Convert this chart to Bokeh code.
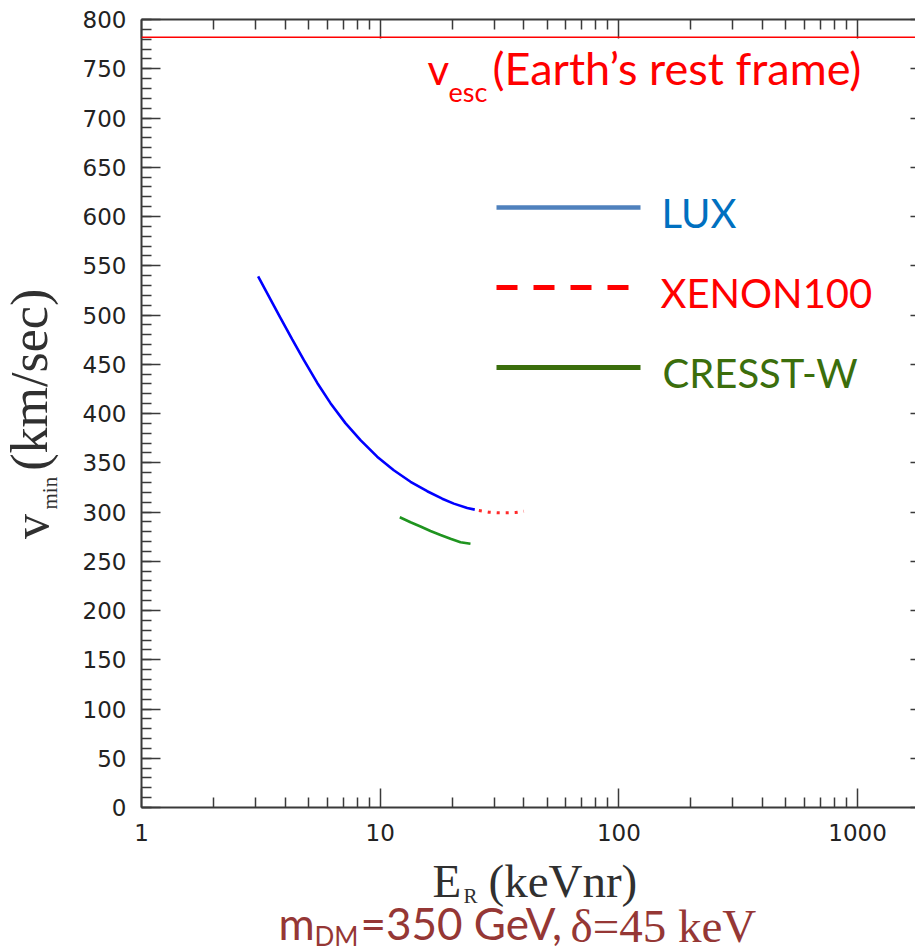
import math
from bokeh.plotting import figure
from bokeh.layouts import column, row
from bokeh.models import (Range1d, FixedTicker, LogAxis, LinearAxis, Span, Label,
                          Arrow, PrintfTickFormatter)
from bokeh.core.properties import value
from bokeh.embed import file_html
from bokeh.resources import INLINE

# ---------------- data ----------------
lux_E = [3.08, 3.47, 3.82, 4.28, 4.79, 5.45, 6.19, 7.15, 8.27, 9.71, 11.40,
         13.40, 15.74, 18.19, 20.34, 23.15, 24.9]
lux_v = [539.1, 515.9, 497.2, 475.3, 454.1, 431.0, 410.5, 390.2, 372.9, 356.2,
         342.4, 330.7, 321.1, 313.5, 308.5, 304.1, 302.4]

xenon_E = [25.9, 28.5, 30.9, 33.8, 36.9, 40.0]
xenon_v = [301.5, 299.8, 299.2, 299.2, 299.5, 300.8]

cresst_E = [12.08, 13.40, 14.75, 16.24, 17.89, 19.70, 21.70, 23.89]
cresst_v = [294.7, 289.6, 285.3, 280.7, 276.7, 272.8, 269.3, 267.7]

v_esc = 782

x_major = [1, 10, 100, 1000]
x_minor = [m * 10 ** k for k in range(4) for m in range(2, 10)]
y_major = list(range(0, 801, 50))
y_minor = list(range(0, 801, 10))

legend_names = ["LUX", "XENON100", "CRESST-W"]
title_text = "(Earth\u2019s rest frame)"

# ---------------- layout (page pixels) ----------------
W, H = 915, 952
LEFT_W = 70                 # strip holding the rotated y-axis title
FL, FT, FB = 141, 19, 807   # frame left / top / bottom on the page
MAIN_H = 854                # main figure height; the rest holds x title + caption
BOT_H = H - MAIN_H
x_end = 10 ** ((W - FL) / 238.7)

p = figure(width=W - LEFT_W, height=MAIN_H, x_axis_type="log",
           x_range=Range1d(1, x_end), y_range=Range1d(0, 800),
           output_backend="svg", toolbar_location=None,
           min_border_left=FL - LEFT_W, min_border_right=0, min_border_top=FT,
           min_border_bottom=MAIN_H - FB)
p.outline_line_color = None
p.grid.visible = False
p.background_fill_color = "white"
p.border_fill_color = "white"

xticker = FixedTicker(ticks=x_major, minor_ticks=x_minor)
yticker = FixedTicker(ticks=y_major, minor_ticks=y_minor)

AX = "#3a3a3a"


def style(ax, labels=True, tin=19, min_in=10):
    ax.axis_line_color = AX
    ax.axis_line_width = 2
    ax.major_tick_line_color = AX
    ax.minor_tick_line_color = AX
    ax.major_tick_line_width = 1.5
    ax.minor_tick_line_width = 1.5
    ax.major_tick_in = tin
    ax.major_tick_out = 0
    ax.minor_tick_in = min_in
    ax.minor_tick_out = 0
    if labels:
        ax.major_label_text_font = "DejaVu Sans"
        ax.major_label_text_font_size = "23px"
        ax.major_label_text_color = "#222222"
    else:
        ax.major_label_text_font_size = "1px"
        ax.major_label_text_alpha = 0
        ax.major_label_standoff = 0


xa = p.xaxis[0]
xa.ticker = xticker
xa.formatter = PrintfTickFormatter(format="%d")
style(xa)
xa.major_label_standoff = 16

ya = p.yaxis[0]
ya.ticker = yticker
style(ya)
ya.major_label_standoff = 15

top = LogAxis(ticker=xticker)
style(top, labels=False)
p.add_layout(top, "above")

right = LinearAxis(ticker=yticker)
style(right, labels=False, tin=5, min_in=0)
right.axis_line_alpha = 0
p.add_layout(right, "right")

# ---------------- data marks ----------------
p.add_layout(Span(location=v_esc, dimension="width", line_color="#ff0000",
                  line_width=1.5))
p.line(lux_E, lux_v, line_color="#0000ff", line_width=2.6)
p.line(xenon_E, xenon_v, line_color="#ff2a2a", line_width=3, line_dash="3 6")
p.line(cresst_E, cresst_v, line_color="#1f941f", line_width=2.6)

K = {"Lato": 0.43, "Liberation Serif": 0.34}


# ---------------- annotations inside the frame ----------------
def lab(text, X, B, size, color, font="Lato"):
    """X = left edge, B = baseline, in page pixels."""
    yc = B - K[font] * size
    p.add_layout(Label(x=X - FL, y=FB - yc, x_units="screen", y_units="screen",
                       text=text, text_font=font, text_font_size=f"{size}px",
                       text_color=color, text_align="left",
                       text_baseline="middle"))


def seg(X0, X1, Y, color, width, dash="solid"):
    p.add_layout(Arrow(end=None, x_start=X0 - FL, y_start=FB - Y,
                       x_end=X1 - FL, y_end=FB - Y,
                       start_units="screen", end_units="screen",
                       line_color=color, line_width=width, line_dash=dash))


RED = "#ff0000"
lab("v", 427, 87, 42, RED)
lab("esc", 448, 103, 27, RED)
lab(title_text, 492, 87, 45, RED)

seg(496, 640, 207, "#4f81bd", 4.5)
lab(legend_names[0], 661, 230, 40, "#0070c0")
seg(496, 630, 287, RED, 5, "21 16")
lab(legend_names[1], 660, 310, 40, RED)
seg(496, 640, 367, "#3b6e0c", 5)
lab(legend_names[2], 662, 390, 40, "#3b6e0c")


# ---------------- strips outside the frame ----------------
def strip(w, h):
    f = figure(width=w, height=h, x_range=Range1d(0, w), y_range=Range1d(h, 0),
               output_backend="svg", toolbar_location=None,
               x_axis_location=None, y_axis_location=None, min_border=0)
    f.outline_line_color = None
    f.grid.visible = False
    f.background_fill_color = "white"
    f.border_fill_color = "white"
    return f


ROT_FIX = 20   # measured offset of rotated text start


def txt(f, text, X, B, size, color, font, dy=0, angle=0.0):
    if angle:
        xc = X - K[font] * size
        f.text(x=[xc], y=[B + ROT_FIX], text=[text], angle=angle,
               text_font=value(font), text_font_size=value(f"{size}px"),
               text_color=color, text_align="left", text_baseline="middle")
    else:
        yc = B - K[font] * size - dy
        f.text(x=[X], y=[yc], text=[text],
               text_font=value(font), text_font_size=value(f"{size}px"),
               text_color=color, text_align="left", text_baseline="middle")


DK = "#303030"
SERIF = "Liberation Serif"

left = strip(LEFT_W, MAIN_H)
# rotated y title: X is the baseline column, B the start (bottom) of the text
txt(left, "v", 47, 543, 50, DK, SERIF, angle=math.pi / 2)
txt(left, "min", 57, 511, 21, DK, SERIF, angle=math.pi / 2)
txt(left, "(km/sec)", 47, 469, 52, DK, SERIF, angle=math.pi / 2)

bottom = strip(W, BOT_H)
BR = "#953735"
txt(bottom, "E", 432, 896, 47, DK, SERIF, dy=MAIN_H)
txt(bottom, "R", 463, 903, 21, DK, SERIF, dy=MAIN_H)
txt(bottom, "(keVnr)", 488, 896, 47, DK, SERIF, dy=MAIN_H)

txt(bottom, "m", 278, 941, 44, BR, "Lato", dy=MAIN_H)
txt(bottom, "DM", 314, 947, 26, BR, "Lato", dy=MAIN_H)
txt(bottom, "=350 GeV,", 360, 941, 44, BR, "Lato", dy=MAIN_H)
txt(bottom, "\u03b4=45 keV", 570, 941, 47, BR, SERIF, dy=MAIN_H)

layout = column(row(left, p), bottom)
open("out.html", "w").write(file_html(layout, INLINE, "v_min vs E_R"))
